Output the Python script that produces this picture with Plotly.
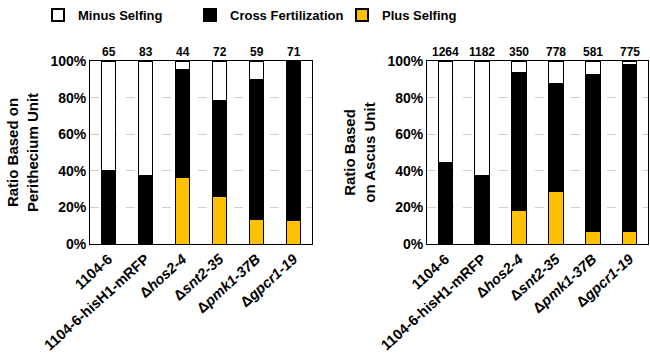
import plotly.graph_objects as go
from plotly.subplots import make_subplots

strains = ["1104-6", "1104-6-hisH1-mRFP", "Δ<i>hos2-4</i>", "Δ<i>snt2-35</i>", "Δ<i>pmk1-37B</i>", "Δ<i>gpcr1-19</i>"]
keys = ["s1", "s2", "s3", "s4", "s5", "s6"]

# Perithecium unit (%)
peri_plus = [0, 0, 36.4, 25.8, 13.6, 12.7]
peri_cross = [40.4, 37.3, 59.1, 52.4, 76.3, 86.6]
peri_minus = [59.6, 62.7, 4.5, 21.8, 10.1, 0.7]
peri_n = [65, 83, 44, 72, 59, 71]

# Ascus unit (%)
asc_plus = [0, 0, 18.5, 28.5, 6.7, 6.7]
asc_cross = [44.4, 37.3, 75.0, 59.0, 85.8, 91.5]
asc_minus = [55.6, 62.7, 6.5, 12.5, 7.5, 1.8]
asc_n = [1264, 1182, 350, 778, 581, 775]

yticks = [0, 20, 40, 60, 80, 100]
ytext = ["0%", "20%", "40%", "60%", "80%", "100%"]

FONT = "Arial, Liberation Sans, sans-serif"
YEL = "#FFC000"

fig = make_subplots(rows=1, cols=2, horizontal_spacing=0.2)

def add_panel(col, plus, cross, minus, show):
    fig.add_trace(go.Bar(x=keys, y=plus, name="<b>Plus Selfing</b>", marker=dict(color=YEL, line=dict(color="black", width=1)),
                         showlegend=show, legendrank=3), row=1, col=col)
    fig.add_trace(go.Bar(x=keys, y=cross, name="<b>Cross Fertilization</b>", marker=dict(color="black", line=dict(color="black", width=1)),
                         showlegend=show, legendrank=2), row=1, col=col)
    fig.add_trace(go.Bar(x=keys, y=minus, name="<b>Minus Selfing</b>", marker=dict(color="white", line=dict(color="black", width=1)),
                         showlegend=show, legendrank=1), row=1, col=col)

add_panel(1, peri_plus, peri_cross, peri_minus, True)
add_panel(2, asc_plus, asc_cross, asc_minus, False)

for k, n in zip(keys, peri_n):
    fig.add_annotation(x=k, y=100, text=f"<b>{n}</b>", showarrow=False, yanchor="bottom", yshift=0,
                       xref="x", yref="y", font=dict(size=12, family=FONT, color="black"))
for k, n in zip(keys, asc_n):
    fig.add_annotation(x=k, y=100, text=f"<b>{n}</b>", showarrow=False, yanchor="bottom", yshift=0,
                       xref="x2", yref="y2", font=dict(size=12, family=FONT, color="black"))

ticktext = [f"<b>{s}</b>" for s in strains]
for ax, dom in (("xaxis", [0, 0.398]), ("xaxis2", [0.604, 1.0])):
    fig.layout[ax].update(domain=dom, tickmode="array", tickvals=keys, ticktext=ticktext, tickangle=-42,
                          showline=True, linecolor="black", linewidth=1, mirror=True, ticks="", automargin=False,
                          tickfont=dict(size=14.5, family=FONT, color="black"))
for ax, title in (("yaxis", "<b>Ratio Based on<br>Perithecium Unit</b>"), ("yaxis2", "<b>Ratio Based<br>on Ascus Unit</b>")):
    fig.layout[ax].update(range=[0, 100], tickvals=yticks, ticktext=[f"<b>{t}</b>" for t in ytext],
                          showline=True, linecolor="black", linewidth=1, mirror=True, ticks="", automargin=False,
                          showgrid=True, gridcolor="#cfcfcf", griddash="dash", gridwidth=1, zeroline=False,
                          tickfont=dict(size=14, family=FONT, color="black"),
                          title=dict(text=title, font=dict(size=15, family=FONT, color="black"), standoff=8))

fig.update_layout(
    barmode="stack", bargap=0.6, width=650, height=355,
    margin=dict(l=90, r=2, t=61, b=111),
    plot_bgcolor="white", paper_bgcolor="white",
    font=dict(family=FONT, color="black"),
    legend=dict(orientation="h", x=38 / 650, xref="container", xanchor="left", y=1.0, yref="container", yanchor="top",
                font=dict(size=13, family=FONT, color="black"), traceorder="normal",
                entrywidth=107, itemsizing="constant"),
)

fig.write_html("out.html", config={"displayModeBar": False}, post_script="document.body.style.margin='0';")
